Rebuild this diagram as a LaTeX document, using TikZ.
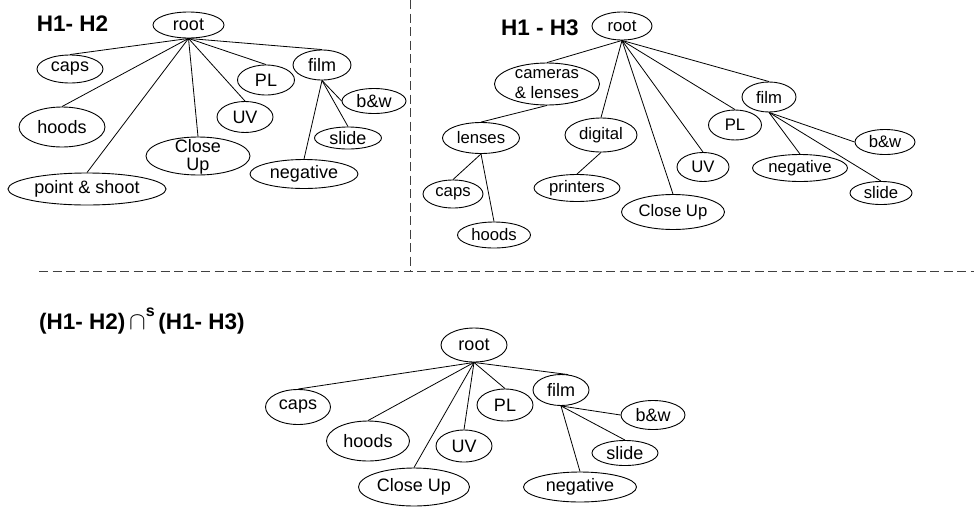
\documentclass[tikz,border=0pt]{standalone}
\usepackage{fontspec}
\setmainfont{Liberation Sans}
\usetikzlibrary{shapes.geometric}

\tikzset{
  ell/.style 2 args={draw, ellipse, inner sep=0pt, line width=0.9pt,
    minimum width=#1pt, minimum height=#2pt},
  edge/.style={line width=0.8pt},
  lbl/.style={inner sep=0pt, align=center},
  txtA/.style={font=\fontsize{18}{18}\selectfont},
  txtB/.style={font=\fontsize{16.7}{20}\selectfont},
  title/.style={inner sep=0pt, anchor=base west,
    font=\fontsize{22.5}{25}\selectfont\bfseries},
  divider/.style={line width=0.9pt, black!75, dash pattern=on 9pt off 4.5pt}
}

\begin{document}
\begin{tikzpicture}[x=1pt, y=-1pt]
\useasboundingbox (0,0) rectangle (974,509);

% ---------- section dividers ----------
\coordinate (vTop) at (410,0);
\coordinate (vBot) at (410,271);
\coordinate (hLeft) at (39,271);
\coordinate (hRight) at (974,271);
\draw[divider] (vTop) -- (vBot);
\draw[divider] (hLeft) -- (hRight);

% ---------- H1 - H2 ----------
\node[title] (tA) at (36.7,31) {H1- H2};
\begin{scope}[every node/.append style={txtA}]
  \node[ell={71}{26}]  (aroot)  at (188.5,25) {root};
  \node[ell={66}{28}]  (acaps)  at (70,69)    {caps};
  \node[ell={86}{40}]  (ahoods) at (62,127)   {hoods};
  \node[ell={158}{32}] (apoint) at (87,189)   {point \& shoot};
  \node[ell={104}{38}] (aclose) at (198,156)  {};
  \node[lbl, font=\fontsize{18}{18}\selectfont] (acloseT) at (198,157) {Close\\Up};
  \node[ell={56}{31}]  (auv)    at (245,117)  {UV};
  \node[ell={57}{30}]  (apl)    at (266,80)   {PL};
  \node[ell={58}{30}]  (afilm)  at (322,65)   {film};
  \node[ell={64}{25}]  (abw)    at (374,101)  {b\&w};
  \node[ell={67}{22}]  (aslide) at (348,138)  {slide};
  \node[ell={108}{29}] (aneg)   at (304,174)  {negative};
\end{scope}
\foreach \c in {acaps,ahoods,apoint,aclose,auv,apl,afilm}
  \draw[edge] (aroot.south) -- (\c.north);
\draw[edge] (afilm.south) -- (abw.west);
\draw[edge] (afilm.south) -- (aslide.north);
\draw[edge] (afilm.south) -- (aneg.north);

% ---------- H1 - H3 ----------
\node[title] (tB) at (501,35) {H1 - H3};
\begin{scope}[every node/.append style={txtB}]
  \node[ell={60}{28}]  (broot)   at (622,26)  {root};
  \node[ell={105}{42}] (bcam)    at (547,84)  {};
  \node[lbl, font=\fontsize{16.7}{20}\selectfont] (bcamT) at (547,84) {cameras\\\& lenses};
  \node[ell={77}{31}]  (blenses) at (481,138) {lenses};
  \node[ell={60}{28}]  (bcaps)   at (453,194) {caps};
  \node[ell={73}{26}]  (bhoods)  at (494,235) {hoods};
  \node[ell={72}{34}]  (bdig)    at (601,135) {digital};
  \node[ell={86}{27}]  (bprint)  at (577,188) {printers};
  \node[ell={103}{35}] (bclose)  at (673,212) {Close Up};
  \node[ell={52}{29}]  (buv)     at (703,167) {UV};
  \node[ell={53}{30}]  (bpl)     at (735,125) {PL};
  \node[ell={54}{30}]  (bfilm)   at (769,97)  {film};
  \node[ell={95}{27}]  (bneg)    at (800,168) {negative};
  \node[ell={60}{25}]  (bbw)     at (885,142) {b\&w};
  \node[ell={62}{23}]  (bslide)  at (881,193) {slide};
\end{scope}
\foreach \c in {bcam,bdig,bclose,buv,bpl,bfilm}
  \draw[edge] (broot.south) -- (\c.north);
\draw[edge] (bcam.south) -- (blenses.north);
\draw[edge] (blenses.south) -- (bcaps.north);
\draw[edge] (blenses.south) -- (bhoods.north);
\draw[edge] (bdig.south) -- (bprint.north);
\draw[edge] (bfilm.south) -- (bneg.north);
\draw[edge] (bfilm.south) -- (bbw.west);
\draw[edge] (bfilm.south) -- (bslide.north);

% ---------- (H1 - H2) intersected with (H1 - H3) ----------
\node[title] (tC) at (39,329)
  {(H1- H2)\,{\fontsize{23}{23}\selectfont$\cap$}\raisebox{13pt}{\fontsize{16}{16}\selectfont s}\,(H1- H3)};
\begin{scope}[every node/.append style={txtA}]
  \node[ell={66}{34}]  (croot)  at (474,345) {root};
  \node[ell={65}{35}]  (ccaps)  at (298,407) {caps};
  \node[ell={83}{40}]  (choods) at (368,441) {hoods};
  \node[ell={111}{38}] (cclose) at (414,487) {Close Up};
  \node[ell={56}{32}]  (cuv)    at (464,446) {UV};
  \node[ell={56}{32}]  (cpl)    at (505,405) {PL};
  \node[ell={56}{31}]  (cfilm)  at (561,390) {film};
  \node[ell={64}{29}]  (cbw)    at (653,415) {b\&w};
  \node[ell={66}{25}]  (cslide) at (625,453) {slide};
  \node[ell={113}{30}] (cneg)   at (580,487) {negative};
\end{scope}
\foreach \c in {ccaps,choods,cclose,cuv,cpl}
  \draw[edge] (croot.south) -- (\c.north);
\draw[edge] (croot.south) -- (cfilm.65);
\draw[edge] (cfilm.south) -- (cbw.west);
\draw[edge] (cfilm.south) -- (cslide.north);
\draw[edge] (cfilm.south) -- (cneg.north);
\end{tikzpicture}
\end{document}
